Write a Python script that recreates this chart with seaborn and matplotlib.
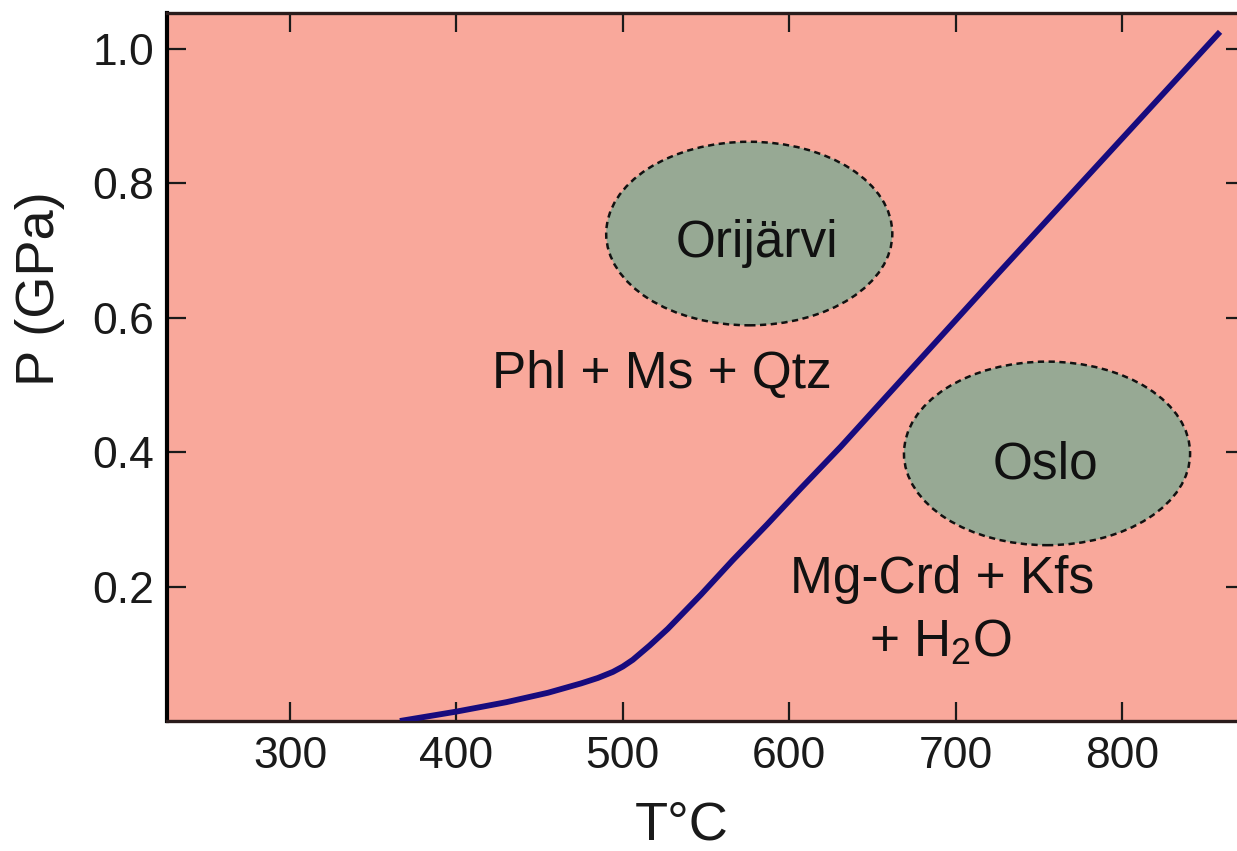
import matplotlib
matplotlib.use("Agg")
import matplotlib.pyplot as plt
from matplotlib.patches import Ellipse
import seaborn as sns
import pandas as pd

# ---- data ----
T_curve = [366, 400, 430, 455, 475, 485, 494, 500, 506, 516, 527, 547, 566, 587, 607, 631, 725, 859]
P_curve = [0.0, 0.014, 0.028, 0.042, 0.056, 0.064, 0.073, 0.081, 0.091, 0.112, 0.137, 0.188,
           0.239, 0.293, 0.346, 0.408, 0.664, 1.025]

region_names = ["Orijärvi", "Oslo"]
region_T = [576, 755]
region_P = [0.725, 0.398]
region_width_T = 172
region_height_P = 0.273

field_labels = ["Phl + Ms + Qtz", "Mg-Crd + Kfs", "+ H$_2$O"]
field_T = [523.7, 691.8, 691.0]
field_P = [0.495, 0.190, 0.096]

x_ticks = [300, 400, 500, 600, 700, 800]
y_ticks = [0.2, 0.4, 0.6, 0.8, 1.0]
y_ticklabels = ["0.2", "0.4", "0.6", "0.8", "1.0"]

sns.set_style("ticks")
plt.rcParams["font.family"] = ["Liberation Sans", "DejaVu Sans"]
plt.rcParams["mathtext.fontset"] = "custom"
plt.rcParams["mathtext.rm"] = "Liberation Sans"
plt.rcParams["mathtext.it"] = "Liberation Sans:italic"
plt.rcParams["mathtext.bf"] = "Liberation Sans:bold"

W, H = 1237, 851
fig = plt.figure(figsize=(W / 100, H / 100), dpi=100)
left, right, top, bottom = 167, 1245, 13, 721
ax = fig.add_axes([left / W, 1 - bottom / H, (right - left) / W, (bottom - top) / H])
ax.set_facecolor("#f9a89b")

for name, t, p in zip(region_names, region_T, region_P):
    ax.add_patch(Ellipse((t, p), region_width_T, region_height_P,
                         facecolor="#97a994", edgecolor="#111111",
                         linewidth=1.8, linestyle=(0, (2.5, 1.8)), zorder=2))

df = pd.DataFrame({"T": T_curve, "P": P_curve})
sns.lineplot(data=df, x="T", y="P", sort=False, estimator=None, ax=ax,
             color="#170b7e", linewidth=4.2, zorder=3)
for ln in ax.get_lines():
    ln.set_solid_joinstyle("round")
    ln.set_solid_capstyle("butt")

ax.text(580.6, 0.690, region_names[0], ha="center", va="baseline", fontsize=37, color="#111111", zorder=4)
ax.text(754.0, 0.361, region_names[1], ha="center", va="baseline", fontsize=37, color="#111111", zorder=4)
for lab, t, p in zip(field_labels, field_T, field_P):
    ax.text(t, p, lab, ha="center", va="baseline", fontsize=37, color="#111111", zorder=4)

ax.set_xlim(226, 874)
ax.set_ylim(0, 1.053)
ax.set_xticks(x_ticks)
ax.set_yticks(y_ticks)
ax.set_yticklabels(y_ticklabels)
ax.tick_params(direction="in", length=14, width=1.6, labelsize=32, colors="#1a1a1a",
               top=True, right=True)
ax.tick_params(axis="x", pad=11)
ax.tick_params(axis="y", pad=9)

for s in ax.spines.values():
    s.set_linewidth(2.4)
    s.set_color("#2a1c1c")
ax.spines["left"].set_color("black")
ax.spines["left"].set_linewidth(3)

ax.set_xlabel("T°C", fontsize=39, color="#1a1a1a")
ax.set_ylabel("P (GPa)", fontsize=39, color="#1a1a1a")
ax.xaxis.set_label_coords(0.4775, -0.112)
ax.yaxis.set_label_coords(-0.095, 0.61)

fig.savefig("out.png", dpi=100, facecolor="white")
